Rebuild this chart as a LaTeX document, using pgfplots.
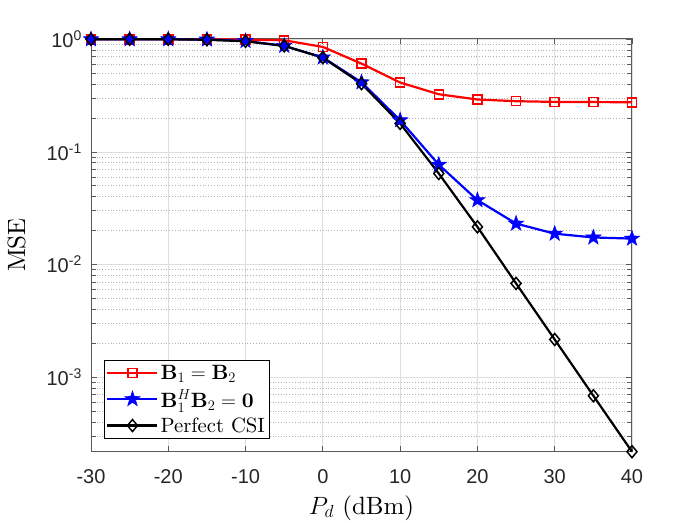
\RequirePackage{fix-cm}
\documentclass[border=0pt]{standalone}
\usepackage{fontspec}
\setmainfont{lmroman10-regular}[Extension=.otf, BoldFont=lmroman10-bold, ItalicFont=lmroman10-italic, BoldItalicFont=lmroman10-bolditalic]
\newfontfamily\arial{Liberation Sans}
\usepackage{pgfplots}
\pgfplotsset{compat=1.18}

\pgfdeclareplotmark{fstar}{%
  \pgfpathmoveto{\pgfpointpolar{90}{\pgfplotmarksize}}%
  \pgfpathlineto{\pgfpointpolar{126}{0.4\pgfplotmarksize}}%
  \pgfpathlineto{\pgfpointpolar{162}{\pgfplotmarksize}}%
  \pgfpathlineto{\pgfpointpolar{198}{0.4\pgfplotmarksize}}%
  \pgfpathlineto{\pgfpointpolar{234}{\pgfplotmarksize}}%
  \pgfpathlineto{\pgfpointpolar{270}{0.4\pgfplotmarksize}}%
  \pgfpathlineto{\pgfpointpolar{306}{\pgfplotmarksize}}%
  \pgfpathlineto{\pgfpointpolar{342}{0.4\pgfplotmarksize}}%
  \pgfpathlineto{\pgfpointpolar{18}{\pgfplotmarksize}}%
  \pgfpathlineto{\pgfpointpolar{54}{0.4\pgfplotmarksize}}%
  \pgfpathclose
  \pgfusepathqfillstroke}

\pgfdeclareplotmark{mdiam}{%
  \pgfpathmoveto{\pgfqpoint{0pt}{1.2\pgfplotmarksize}}%
  \pgfpathlineto{\pgfqpoint{\pgfplotmarksize}{0pt}}%
  \pgfpathlineto{\pgfqpoint{0pt}{-1.2\pgfplotmarksize}}%
  \pgfpathlineto{\pgfqpoint{-\pgfplotmarksize}{0pt}}%
  \pgfpathclose
  \pgfusepathqstroke}

\begin{document}
\begin{tikzpicture}
\path[use as bounding box] (0,0) rectangle (698bp,523bp);
\begin{axis}[
  at={(91bp,71.3bp)}, anchor=south west,
  width=541bp, height=413.4bp, scale only axis,
  ymode=log,
  xmin=-30, xmax=40, ymin=2.18e-4, ymax=1.02,
  clip=false,
  xtick={-30,-20,-10,0,10,20,30,40},
  xticklabels={-30,-20,-10,0,10,20,30,40},
  ytick={1e-3,1e-2,1e-1,1},
  yticklabels={10\textsuperscript{-3},10\textsuperscript{-2},10\textsuperscript{-1},10\textsuperscript{0}},
  minor ytick={3e-4,4e-4,5e-4,6e-4,7e-4,8e-4,9e-4,
               2e-3,3e-3,4e-3,5e-3,6e-3,7e-3,8e-3,9e-3,
               2e-2,3e-2,4e-2,5e-2,6e-2,7e-2,8e-2,9e-2,
               2e-1,3e-1,4e-1,5e-1,6e-1,7e-1,8e-1,9e-1},
  xmajorgrids, ymajorgrids, yminorgrids,
  major grid style={draw=black!13, line width=0.8bp},
  minor grid style={draw=black!30, line width=0.8bp, dotted},
  axis line style={draw=black!65, line width=1bp},
  tick style={draw=black!65, line width=0.8bp},
  major tick length=6bp, minor tick length=5bp,
  tick align=inside,
  xticklabel style={font=\arial\fontsize{20bp}{24bp}\selectfont, text=black!85, anchor=base, yshift=-31.3bp},
  yticklabel style={font=\arial\fontsize{20bp}{24bp}\selectfont, text=black!85, anchor=east, inner sep=0pt, xshift=-9bp},
  xlabel={$P_d$ (dBm)},
  ylabel={MSE},
  xlabel style={font=\fontsize{25bp}{30bp}\selectfont, at={(axis description cs:0.5,-0.1507)}, anchor=base},
  ylabel style={font=\fontsize{25bp}{30bp}\selectfont, at={(axis description cs:-0.1377,0.5)}, anchor=center},
  legend style={at={(axis description cs:0.024,0.0307)}, anchor=south west,
    draw=black, line width=0.8bp, fill=white,
    font=\fontsize{20.7bp}{25bp}\selectfont,
    inner xsep=2bp, inner ysep=3bp, row sep=5bp},
  legend cell align=left,
  legend image code/.code={\draw[mark repeat=2,mark phase=2,#1] plot coordinates {(0bp,0bp) (25bp,0bp) (50bp,0bp)};},
]
\addplot[red, line width=2.2bp, mark=square, mark size=4.5bp, mark options={line width=1.5bp, solid}] coordinates {
(-30,1.0) (-25,1.0) (-20,1.0) (-15,1.0) (-10,0.993) (-5,0.98) (0,0.855) (5,0.608)
(10,0.413) (15,0.325) (20,0.292) (25,0.282) (30,0.278) (35,0.277) (40,0.276)};
\addlegendentry{$\mathbf{B}_1=\mathbf{B}_2$}
\addplot[blue, line width=2.2bp, mark=fstar, mark size=8bp, mark options={fill=blue, line width=0.6bp, solid}] coordinates {
(-30,1.0) (-25,1.0) (-20,1.0) (-15,0.995) (-10,0.965) (-5,0.875) (0,0.69) (5,0.415)
(10,0.191) (15,0.077) (20,0.0373) (25,0.0231) (30,0.0188) (35,0.0174) (40,0.0170)};
\addlegendentry{$\mathbf{B}_1^H\mathbf{B}_2=\mathbf{0}$}
\addplot[black, line width=2.2bp, mark=mdiam, mark size=5bp, mark options={line width=1.5bp, solid}] coordinates {
(-30,1.0) (-25,1.0) (-20,1.0) (-15,0.99) (-10,0.96) (-5,0.873) (0,0.687) (5,0.404)
(10,0.179) (15,0.0643) (20,0.0216) (25,0.0068) (30,0.00216) (35,0.000684) (40,0.000218)};
\addlegendentry{Perfect CSI}
\end{axis}
\end{tikzpicture}
\end{document}
